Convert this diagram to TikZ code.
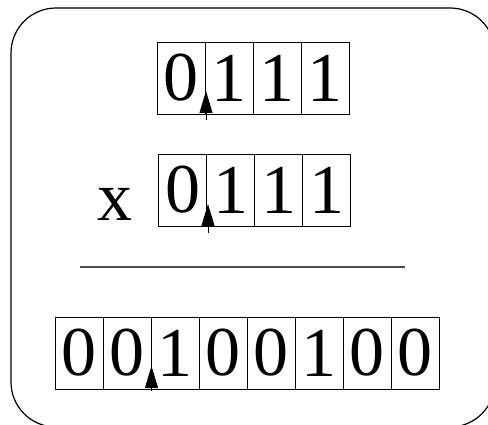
\documentclass[tikz,border=0pt]{standalone}
\usepackage{fontspec}
\setmainfont{Liberation Serif}
\usetikzlibrary{positioning,arrows.meta}
\tikzset{
 bitcell/.style={draw,line width=0.9pt,minimum width=48pt,minimum height=72pt,
  inner sep=0pt,outer sep=0pt,font=\fontsize{70}{74}\selectfont},
 pointer/.style={-{Triangle[length=22pt,width=13pt]},line width=0.9pt},
}
\begin{document}
\begin{tikzpicture}[x=1pt,y=1pt]
 \useasboundingbox (0,0) rectangle (488,424);
 \clip (0,0) rectangle (488,424);
 \draw[line width=1.2pt,rounded corners=45pt](11,-3) rectangle (495,416);
 % multiplicand
 \node[bitcell,anchor=south west] (a1) at (157,310) {0};
 \node[bitcell,right=0pt of a1] (a2) {1};
 \node[bitcell,right=0pt of a2] (a3) {1};
 \node[bitcell,right=0pt of a3] (a4) {1};
 % multiplier
 \node[bitcell,anchor=south west] (b1) at (158.5,198) {0};
 \node[bitcell,right=0pt of b1] (b2) {1};
 \node[bitcell,right=0pt of b2] (b3) {1};
 \node[bitcell,right=0pt of b3] (b4) {1};
 \node[font=\fontsize{70}{74}\selectfont,anchor=base] (times) at (115,204) {x};
 % rule
 \coordinate (r1) at (80,157);
 \coordinate (r2) at (405,157);
 \draw[line width=1.2pt,black!70](r1)--(r2);
 % product
 \node[bitcell,anchor=south west] (c1) at (55,35) {0};
 \node[bitcell,right=0pt of c1] (c2) {0};
 \node[bitcell,right=0pt of c2] (c3) {1};
 \node[bitcell,right=0pt of c3] (c4) {0};
 \node[bitcell,right=0pt of c4] (c5) {0};
 \node[bitcell,right=0pt of c5] (c6) {1};
 \node[bitcell,right=0pt of c6] (c7) {0};
 \node[bitcell,right=0pt of c7] (c8) {0};
 % binary points
 \coordinate (pa) at ([xshift=1pt,yshift=-6pt]a1.south east);
 \coordinate (qa) at ([xshift=1pt,yshift=23pt]a1.south east);
 \coordinate (pb) at ([xshift=1.5pt,yshift=-7pt]b1.south east);
 \coordinate (qb) at ([xshift=1.5pt,yshift=22pt]b1.south east);
 \coordinate (pc) at ([xshift=0.5pt,yshift=-2pt]c2.south east);
 \coordinate (qc) at ([xshift=0.5pt,yshift=23pt]c2.south east);
 \draw[pointer](pa)--(qa);
 \draw[pointer](pb)--(qb);
 \draw[pointer](pc)--(qc);
\end{tikzpicture}
\end{document}
